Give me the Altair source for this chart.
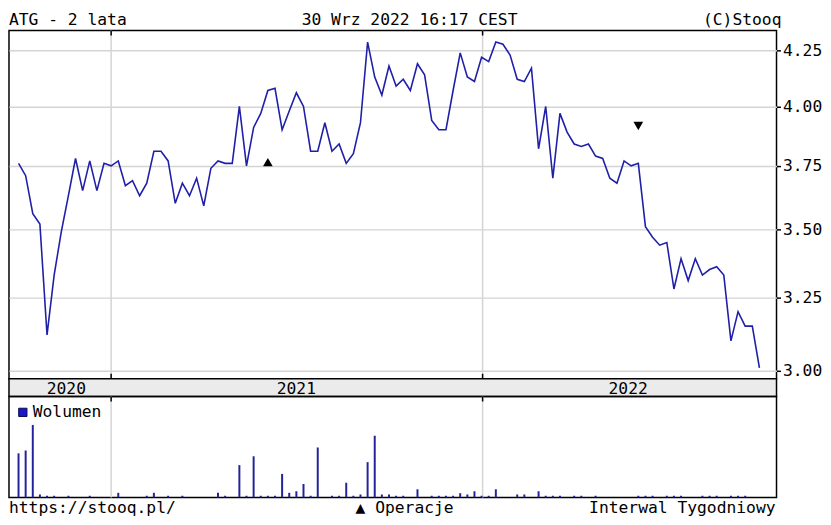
import altair as alt
import pandas as pd

# ---------------- data ----------------
prices = [3.76, 3.71, 3.56, 3.52, 3.12, 3.33, 3.49, 3.63, 3.78, 3.65,
          3.77, 3.65, 3.76, 3.75, 3.77, 3.67, 3.69, 3.63, 3.68, 3.81,
          3.81, 3.77, 3.60, 3.68, 3.63, 3.70, 3.59, 3.74, 3.77, 3.76,
          3.76, 4.00, 3.75, 3.91, 3.97, 4.07, 4.08, 3.90, 3.98, 4.06,
          4.00, 3.81, 3.81, 3.93, 3.81, 3.84, 3.76, 3.80, 3.93, 4.29,
          4.13, 4.05, 4.18, 4.09, 4.12, 4.07, 4.19, 4.14, 3.94, 3.90,
          3.90, 4.07, 4.24, 4.13, 4.11, 4.22, 4.20, 4.29, 4.28, 4.23,
          4.12, 4.11, 4.17, 3.82, 4.00, 3.70, 3.97, 3.89, 3.84, 3.83,
          3.84, 3.79, 3.78, 3.70, 3.68, 3.77, 3.75, 3.76, 3.51, 3.47,
          3.44, 3.45, 3.28, 3.39, 3.31, 3.39, 3.33, 3.35, 3.36, 3.33,
          3.10, 3.20, 3.15, 3.15, 3.01]

volumes = [45, 48, 74, 3, 1.7, 1.7, 0, 1.7, 0, 0,
           1.7, 0, 0, 0, 4.7, 0, 0, 0, 1.7, 4.7,
           0, 1.7, 0, 1.7, 0, 0, 0, 0, 4.7, 1.7,
           0, 33, 1.7, 42, 1.7, 1.7, 1.7, 24, 4.7, 6.3,
           13.7, 1.7, 51, 0, 1.7, 1.7, 15, 1.7, 3, 36,
           63, 3, 3, 1.7, 1.7, 0, 8.3, 0, 1.7, 1.7,
           1.7, 1.7, 4.3, 3, 6.3, 1.7, 1.7, 8.3, 0, 0,
           3, 3, 0, 6.3, 1.7, 1.7, 1.7, 0, 1.7, 1.7,
           0, 1.7, 0, 0, 0, 0, 0, 1.7, 1.7, 1.7,
           0, 1.7, 1.7, 1.7, 0, 0, 1.7, 1.7, 1.7, 0,
           1.7, 1.7, 1.7, 0, 0]

dates = pd.date_range("2020-10-02", periods=len(prices), freq="7D").strftime("%Y-%m-%d").tolist()

year_bounds = ["2021-01-01", "2022-01-01"]
year_labels = ["2020", "2021", "2022"]
year_label_dates = ["2020-11-18", "2021-07-02", "2022-05-24"]
y_ticks = [3.00, 3.25, 3.50, 3.75, 4.00, 4.25]

op_dates = [dates[35], dates[87]]
op_prices = [3.765, 3.916]
op_shapes = ["triangle-up", "triangle-down"]

header_left = "ATG - 2 lata"
header_center = "30 Wrz 2022 16:17 CEST"
header_right = "(C)Stooq"
footer_left = "https://stooq.pl/"
footer_center = "\u25b2 Operacje"
footer_right = "Interwal Tygodniowy"
legend_label = "Wolumen"

# ---------------- styling ----------------
FONT = "DejaVu Sans Mono"
FS = 16.5
W = 776
H_PRICE = 352
H_BAND = 18
H_VOL = 102
LINE_C = "#1f1fa8"
GRID_C = "#d4d4d4"

x_scale = alt.Scale(domain=[alt.DateTime(year=2020, month=9, date=22, hours=15, utc=True),
                            alt.DateTime(year=2022, month=10, date=16, hours=19, utc=True)],
                    padding=0)
y_scale = alt.Scale(type="log", domain=[2.975, 4.344], nice=False, zero=False, padding=0)


def X(field="date"):
    return alt.X(f"{field}:T", scale=x_scale, axis=None)


price_df = pd.DataFrame({"date": dates, "price": prices})
vol_df = pd.DataFrame({"date": dates, "vol": volumes})
bounds_df = pd.DataFrame({"date": year_bounds})
ops_df = pd.DataFrame({"date": op_dates, "price": op_prices, "shape": op_shapes})
band_df = pd.DataFrame({"date": year_label_dates, "label": year_labels})


def text_layer(txt, x, y, align):
    return alt.Chart(pd.DataFrame({"t": [txt]})).mark_text(
        align=align, baseline="alphabetic", font=FONT, fontSize=FS, color="black"
    ).encode(x=alt.value(x), y=alt.value(y), text="t:N")


# ---------------- price panel ----------------
vgrid = alt.Chart(bounds_df).mark_rule(color=GRID_C, strokeWidth=1.5).encode(x=X())
top_ticks = alt.Chart(bounds_df).mark_rule(color="black", strokeWidth=1.5).encode(
    x=X(), y=alt.value(0), y2=alt.value(5))
bot_ticks = alt.Chart(bounds_df).mark_rule(color="black", strokeWidth=1.5).encode(
    x=X(), y=alt.value(H_PRICE - 5), y2=alt.value(H_PRICE))

line = alt.Chart(price_df).mark_line(color=LINE_C, strokeWidth=1.6).encode(
    x=X(),
    y=alt.Y("price:Q", scale=y_scale,
            axis=alt.Axis(orient="right", values=y_ticks, format=".2f", grid=True,
                          gridColor=GRID_C, gridWidth=1.5, tickColor="black",
                          tickSize=4, tickWidth=1.5, labelFont=FONT, labelFontSize=FS,
                          labelColor="black", labelPadding=2, domain=False, title=None)),
)

ops = alt.Chart(ops_df).mark_point(filled=True, color="black", size=95, opacity=1).encode(
    x=X(), y=alt.Y("price:Q", scale=y_scale), shape=alt.Shape("shape:N", scale=None))

price = alt.layer(
    vgrid, line, ops, top_ticks, bot_ticks,
    text_layer(header_left, 0, -5.5, "left"),
    text_layer(header_center, 405, -5.5, "center"),
    text_layer(header_right, W + 5, -5.5, "right"),
).properties(width=W, height=H_PRICE)

# ---------------- year band ----------------
band = alt.Chart(band_df).mark_text(
    font=FONT, fontSize=FS, color="black", baseline="middle", dy=1
).encode(x=X(), y=alt.value(H_BAND / 2), text="label:N").properties(
    width=W, height=H_BAND, view=alt.ViewBackground(fill="#ebebeb", stroke="black", strokeWidth=1.5))

# ---------------- volume panel ----------------
vgrid2 = alt.Chart(bounds_df).mark_rule(color=GRID_C, strokeWidth=1.5).encode(x=X())
vtop_ticks = alt.Chart(bounds_df).mark_rule(color="black", strokeWidth=1.5).encode(
    x=X(), y=alt.value(0), y2=alt.value(5))
bars = alt.Chart(vol_df).mark_bar(width=2, color="#22229a").encode(
    x=X(), y=alt.Y("vol:Q", scale=alt.Scale(domain=[0, 103], padding=0), axis=None))
legend_sq = alt.Chart(pd.DataFrame({"t": [legend_label]})).mark_point(
    shape="square", filled=True, fill="#1818c8", stroke="#0a0a55", strokeWidth=1, size=70, opacity=1
).encode(x=alt.value(14), y=alt.value(16))

vol = alt.layer(
    vgrid2, bars, vtop_ticks, legend_sq,
    text_layer(legend_label, 24, 21, "left"),
    text_layer(footer_left, 0, H_VOL + 15.5, "left"),
    text_layer(footer_center, 400, H_VOL + 15.5, "center"),
    text_layer(footer_right, W - 1, H_VOL + 15.5, "right"),
).properties(width=W, height=H_VOL)

chart = alt.vconcat(price, band, vol, spacing=0, bounds="flush").properties(
    padding=0, background="white"
).configure_view(stroke="black", strokeWidth=1.5).configure_concat(spacing=0)

chart.save("out.html", embed_options={"renderer": "svg", "actions": False})
